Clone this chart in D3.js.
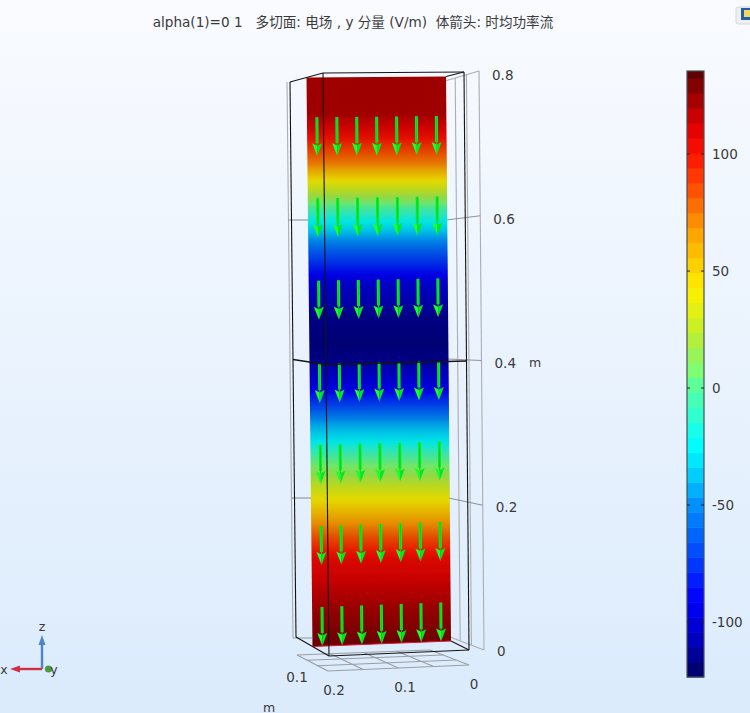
<!DOCTYPE html>
<html>
<head>
<meta charset="utf-8">
<script src="https://cdn.jsdelivr.net/npm/d3@7"></script>
<style>
    html, body { margin: 0; padding: 0; overflow: hidden; }
    text { font-family: "DejaVu Sans", "Noto Sans CJK SC", sans-serif; fill: #3a3a3a; }
</style>
</head>
<body>
<div id="chart"></div>
<script>

// electric field read along the plate
const fieldZ = [0.8, 0.748, 0.73, 0.713, 0.677, 0.652, 0.628, 0.61, 0.595, 0.573, 0.558, 0.536, 0.508, 0.46, 0.424, 0.4,
    0.385, 0.36, 0.336, 0.311, 0.286, 0.262, 0.237, 0.206, 0.177, 0.149, 0.121, 0.093, 0.051, 0.008, 0];
const fieldE = [121, 121, 111, 100, 72, 40, 14, -8, -24, -45, -60, -78, -100, -115, -118, -115,
    -104, -92, -70, -44, -25, 0, 17, 40, 62, 85, 105, 112, 122, 130, 131];

// colour table
const colorValues = [135.5, 123, 112, 100, 85, 67, 50, 42, 28, 16, 8, 0, -11.5, -24, -35, -50, -73, -90, -107, -123.5];
const colorStops = ["#600000", "#a50000", "#e00000", "#ff1200", "#ff5000", "#ffa000", "#ffd800", "#fff000", "#d0f020", "#a0f050",
    "#80ff70", "#55ffa0", "#30ffd0", "#00ffff", "#00d8ff", "#0090ff", "#0040ff", "#0000ff", "#0000c0", "#000060"];
const colorTicks = [100, 50, 0, -50, -100];

// arrows
const arrowZ = [0.744, 0.63, 0.514, 0.397, 0.283, 0.169, 0.055];
const arrowX = [0.1857, 0.1571, 0.1286, 0.1, 0.0714, 0.0429, 0.0143];
const arrowLength = 0.055;

// axes
const zTicks = [0.8, 0.6, 0.4, 0.2, 0];
const xTickLabels = ["0.2", "0.1", "0"];
const floorX = [0, 0.05, 0.1, 0.15, 0.2];
const floorY = [0, 0.033, 0.067, 0.1];
const wallY = [0, 0.037, 0.07, 0.1];
const wallZ = [0.2, 0.6];

const width = 750, height = 713;

const svg = d3.select("#chart").append("svg")
    .attr("width", width)
    .attr("height", height)
    .style("display", "block");

const defs = svg.append("defs");
const bg = defs.append("linearGradient").attr("id", "bg").attr("x2", 0).attr("y2", 1);
bg.append("stop").attr("offset", 0).attr("stop-color", "#f9fbff");
bg.append("stop").attr("offset", 1).attr("stop-color", "#dbebfc");
svg.append("rect").attr("width", width).attr("height", height).attr("fill", "url(#bg)");

// Title
svg.append("text")
    .attr("x", 353).attr("y", 27)
    .attr("text-anchor", "middle")
    .attr("font-size", 13.6)
    .attr("xml:space", "preserve")
    .style("white-space", "pre")
    .text("alpha(1)=0 1   多切面: 电场 , y 分量 (V/m)  体箭头: 时均功率流");

// Corner of the box in pixels, one entry per (x, y, z) end
const corners = {
    "0.2,0,0": [329, 656], "0,0,0": [469, 650], "0.2,0.1,0": [296, 637], "0,0.1,0": [433, 632],
    "0.2,0,0.8": [323, 73], "0,0,0.8": [464, 72], "0.2,0.1,0.8": [290, 82], "0,0.1,0.8": [428, 81]
};

const xNorm = d3.scaleLinear().domain([0, 0.2]).range([0, 1]);
const yNorm = d3.scaleLinear().domain([0, 0.1]).range([0, 1]);
const zNorm = d3.scaleLinear().domain([0, 0.8]).range([0, 1]);

// trilinear projection of a model point
function project(x, y, z) {
    let u = xNorm(x), v = yNorm(y), w = zNorm(z);
    let out = [0, 0];
    [0, 0.2].forEach(function (cx) {
        [0, 0.1].forEach(function (cy) {
            [0, 0.8].forEach(function (cz) {
                let k = (cx ? u : 1 - u) * (cy ? v : 1 - v) * (cz ? w : 1 - w);
                let c = corners[cx + "," + cy + "," + cz];
                out[0] += k * c[0];
                out[1] += k * c[1];
            });
        });
    });
    return out;
}

const line = d3.line();

function drawEdge(parent, points, color, w) {
    parent.append("path")
        .attr("d", line(points))
        .attr("fill", "none")
        .attr("stroke", color)
        .attr("stroke-width", w);
}

// Wall behind the plate on the right
const wallBack = d3.scaleLinear().domain([0, 0.1]).range([479, 445]);
const wallBottom = d3.scaleLinear().domain([0, 0.1]).range([484, 450]);
const wallTopY = d3.scaleLinear().domain([0, 0.1]).range([71, 81]);
const wallBottomY = d3.scaleLinear().domain([0, 0.1]).range([650, 637]);
const wall = function (y, z) {
    let t = zNorm(z);
    return [wallBottom(y) + (wallBack(y) - wallBottom(y)) * t, wallBottomY(y) + (wallTopY(y) - wallBottomY(y)) * t];
};

const grey = svg.append("g");
wallY.forEach(function (y) {
    drawEdge(grey, [wall(y, 0), wall(y, 0.8)], "#aaaeb2", 1.1);
});
drawEdge(grey, [wall(0.1, 0.8), wall(0, 0.8)], "#aaaeb2", 1.1);
drawEdge(grey, [wall(0.1, 0), wall(0, 0)], "#aaaeb2", 1.1);
wallZ.concat([0.4]).forEach(function (z) {
    drawEdge(grey, [wall(0.1, z), wall(0, z)], "#8e9296", 1.1);
});

// Left wall
const leftTop = [287, 82], leftBottom = [293, 638];
const leftAt = d3.scaleLinear().domain([0, 0.8]).range([leftBottom[0], leftTop[0]]);
const leftAtY = d3.scaleLinear().domain([0, 0.8]).range([leftBottom[1], leftTop[1]]);
drawEdge(grey, [leftTop, leftBottom], "#aaaeb2", 1.1);
drawEdge(grey, [[leftBottom[0], leftBottom[1]], [312, 638]], "#9a9ea2", 1.1);
wallZ.forEach(function (z) {
    drawEdge(grey, [[leftAt(z), leftAtY(z) - 1], [project(0.2, 0.05, z)[0], leftAtY(z) - 1]], "#8e9296", 1.1);
});

// Floor grid under the box
const floorCorner = {a: [469, 665], b: [328, 671], c: [430, 650], d: [297, 655]};
const floor = function (x, y) {
    let u = xNorm(x), v = yNorm(y);
    return [
        (1 - u) * (1 - v) * floorCorner.a[0] + u * (1 - v) * floorCorner.b[0] + (1 - u) * v * floorCorner.c[0] + u * v * floorCorner.d[0],
        (1 - u) * (1 - v) * floorCorner.a[1] + u * (1 - v) * floorCorner.b[1] + (1 - u) * v * floorCorner.c[1] + u * v * floorCorner.d[1]
    ];
};
floorX.forEach(function (x) {
    drawEdge(grey, [floor(x, 0), floor(x, 0.1)], "#9a9ea2", 1.1);
});
floorY.forEach(function (y) {
    drawEdge(grey, [floor(0, y), floor(0.2, y)], "#9a9ea2", 1.1);
});

// Colour scale from the table
const color = d3.scaleLinear()
    .domain(colorValues)
    .range(colorStops)
    .interpolate(d3.interpolateRgb)
    .clamp(true);

// Plate, one gradient from the field profile
const fieldAt = d3.scaleLinear().domain(fieldZ).range(fieldE);
const plateLevels = d3.range(0, 0.8005, 0.002);
const plateY = 0.05;
const plateBottom = project(0.1, plateY, 0);
const plateTop = project(0.1, plateY, 0.8);

const plateFill = defs.append("linearGradient")
    .attr("id", "plateFill")
    .attr("gradientUnits", "userSpaceOnUse")
    .attr("x1", plateBottom[0]).attr("y1", plateBottom[1])
    .attr("x2", plateBottom[0]).attr("y2", plateTop[1]);
plateFill.selectAll("stop")
    .data(plateLevels)
    .enter().append("stop")
    .attr("offset", function (z) { return zNorm(z); })
    .attr("stop-color", function (z) { return d3.rgb(color(fieldAt(z))).darker(0.3); });

svg.append("path")
    .attr("d", line([project(0, plateY, 0), project(0.2, plateY, 0), project(0.2, plateY, 0.8), project(0, plateY, 0.8)]) + "Z")
    .attr("fill", "url(#plateFill)");
drawEdge(svg, [project(0, plateY, 0), project(0.2, plateY, 0)], "#e0103c", 1);

// Arrows
const arrowGroup = svg.append("g");
arrowZ.forEach(function (z) {
    arrowX.forEach(function (x) {
        let tail = project(x, plateY, z);
        let tip = project(x, plateY, z - arrowLength);
        let dx = tip[0] - tail[0], dy = tip[1] - tail[1];
        let len = Math.sqrt(dx * dx + dy * dy);
        let ux = dx / len, uy = dy / len;
        let base = [tip[0] - ux * 13, tip[1] - uy * 13];
        let notch = [tip[0] - ux * 10.5, tip[1] - uy * 10.5];
        let g = arrowGroup.append("g");
        drawEdge(g, [tail, base], "#06f020", 3);
        drawEdge(g, [tail, notch], "#00d81e", 1);
        g.append("path")
            .attr("d", line([[base[0] - 5, base[1]], tip, notch]) + "Z")
            .attr("fill", "#1cff28");
        g.append("path")
            .attr("d", line([[base[0] + 5, base[1]], tip, notch]) + "Z")
            .attr("fill", "#00e820");
    });
});

// Black box edges
const black = svg.append("g");
const blackColor = "#141414";
[[0.2, 0.1, 0.8, 0.2, 0, 0.8], [0.2, 0, 0.8, 0, 0, 0.8], [0, 0, 0.8, 0, plateY, 0.8],
    [0.2, 0.1, 0, 0.2, 0, 0], [0.2, 0, 0, 0, 0, 0], [0, 0, 0, 0, plateY, 0],
    [0.2, 0, 0, 0.2, 0, 0.8], [0, 0, 0, 0, 0, 0.8], [0.2, 0.1, 0, 0.2, 0.1, 0.8]
].forEach(function (e) {
    drawEdge(black, [project(e[0], e[1], e[2]), project(e[3], e[4], e[5])], blackColor, 1.1);
});
[[0.2, 0.1, 0.4, 0.2, 0, 0.4], [0.2, 0, 0.4, 0, 0, 0.4]].forEach(function (e) {
    drawEdge(black, [project(e[0], e[1], e[2]), project(e[3], e[4], e[5])], blackColor, 1.4);
});

// z axis labels
const zLabelX = d3.scaleLinear().domain([0, 0.8]).range([497, 492]);
const zLabelY = d3.scaleLinear().domain([0, 0.8]).range([651, 75]);
svg.append("g").selectAll("text")
    .data(zTicks)
    .enter().append("text")
    .attr("x", function (d) { return zLabelX(d); })
    .attr("y", function (d) { return zLabelY(d); })
    .attr("dy", "0.36em")
    .attr("font-size", 13.5)
    .text(function (d) { return d; });
svg.append("text").attr("x", 529).attr("y", 362).attr("dy", "0.36em").attr("font-size", 12.5).text("m");

// x and y labels on the floor
const xLabelX = d3.scaleLinear().domain([0, 2]).range([334, 474]);
const xLabelY = d3.scaleLinear().domain([0, 2]).range([690, 684]);
svg.append("g").selectAll("text")
    .data(xTickLabels)
    .enter().append("text")
    .attr("x", function (d, i) { return xLabelX(i) + (i === 1 ? 1 : 0); })
    .attr("y", function (d, i) { return xLabelY(i); })
    .attr("dy", "0.36em")
    .attr("text-anchor", "middle")
    .attr("font-size", 13.5)
    .text(function (d) { return d; });
svg.append("text").attr("x", 297).attr("y", 677).attr("dy", "0.36em").attr("text-anchor", "middle").attr("font-size", 13.5).text("0.1");
svg.append("text").attr("x", 269).attr("y", 707).attr("dy", "0.36em").attr("text-anchor", "middle").attr("font-size", 12.5).text("m");

// Colour bar
const barX = 687, barW = 17;
const barScale = d3.scaleLinear().domain([135.5, -123.5]).range([71, 677]);
const barStep = 6.4;
const barBands = d3.range(-123.5, 135.5, barStep);
const bar = svg.append("g");
bar.selectAll("rect")
    .data(barBands)
    .enter().append("rect")
    .attr("x", barX)
    .attr("width", barW)
    .attr("y", function (d) { return barScale(Math.min(d + barStep, 135.5)); })
    .attr("height", function (d) { return barScale(d) - barScale(Math.min(d + barStep, 135.5)) + 0.5; })
    .attr("fill", function (d) { return color(d + barStep / 2); });
bar.append("rect")
    .attr("x", barX).attr("y", 71)
    .attr("width", barW).attr("height", 606)
    .attr("fill", "none")
    .attr("stroke", "#4a4f55")
    .attr("stroke-width", 1.2);
colorTicks.forEach(function (t) {
    drawEdge(bar, [[barX, barScale(t)], [barX + 3, barScale(t)]], "#222", 1);
    drawEdge(bar, [[barX + barW - 3, barScale(t)], [barX + barW, barScale(t)]], "#222", 1);
});
bar.selectAll("text")
    .data(colorTicks)
    .enter().append("text")
    .attr("x", 712)
    .attr("y", function (d) { return barScale(d); })
    .attr("dy", "0.36em")
    .attr("font-size", 13.5)
    .text(function (d) { return d; });

// Orientation triad
const triad = svg.append("g");
drawEdge(triad, [[42, 669], [42, 644]], "#4f83cc", 2.4);
triad.append("path").attr("d", line([[42, 635], [38.5, 645], [45.5, 645]]) + "Z").attr("fill", "#4f83cc");
drawEdge(triad, [[42, 669], [19, 669]], "#cf3045", 2.4);
triad.append("path").attr("d", line([[10, 669], [20, 665.5], [20, 672.5]]) + "Z").attr("fill", "#cf3045");
triad.append("circle").attr("cx", 48.5).attr("cy", 669).attr("r", 3.6).attr("fill", "#4d9a3c");
triad.append("text").attr("x", 42).attr("y", 626).attr("dy", "0.36em").attr("text-anchor", "middle").attr("font-size", 12.5).text("z");
triad.append("text").attr("x", 4).attr("y", 669).attr("dy", "0.36em").attr("text-anchor", "middle").attr("font-size", 12.5).text("x");
triad.append("text").attr("x", 54).attr("y", 669).attr("dy", "0.36em").attr("text-anchor", "middle").attr("font-size", 12.5).text("y");

// Corner of the program icon
const icon = svg.append("g");
icon.append("rect").attr("x", 736).attr("y", 7).attr("width", 20).attr("height", 17).attr("rx", 2).attr("fill", "#eef0f4").attr("stroke", "#d4d8de");
icon.append("rect").attr("x", 741).attr("y", 8).attr("width", 12).attr("height", 12).attr("fill", "#2a5cae");
icon.append("rect").attr("x", 744).attr("y", 10).attr("width", 8).attr("height", 7).attr("fill", "#f0d860");

</script>
</body>
</html>
